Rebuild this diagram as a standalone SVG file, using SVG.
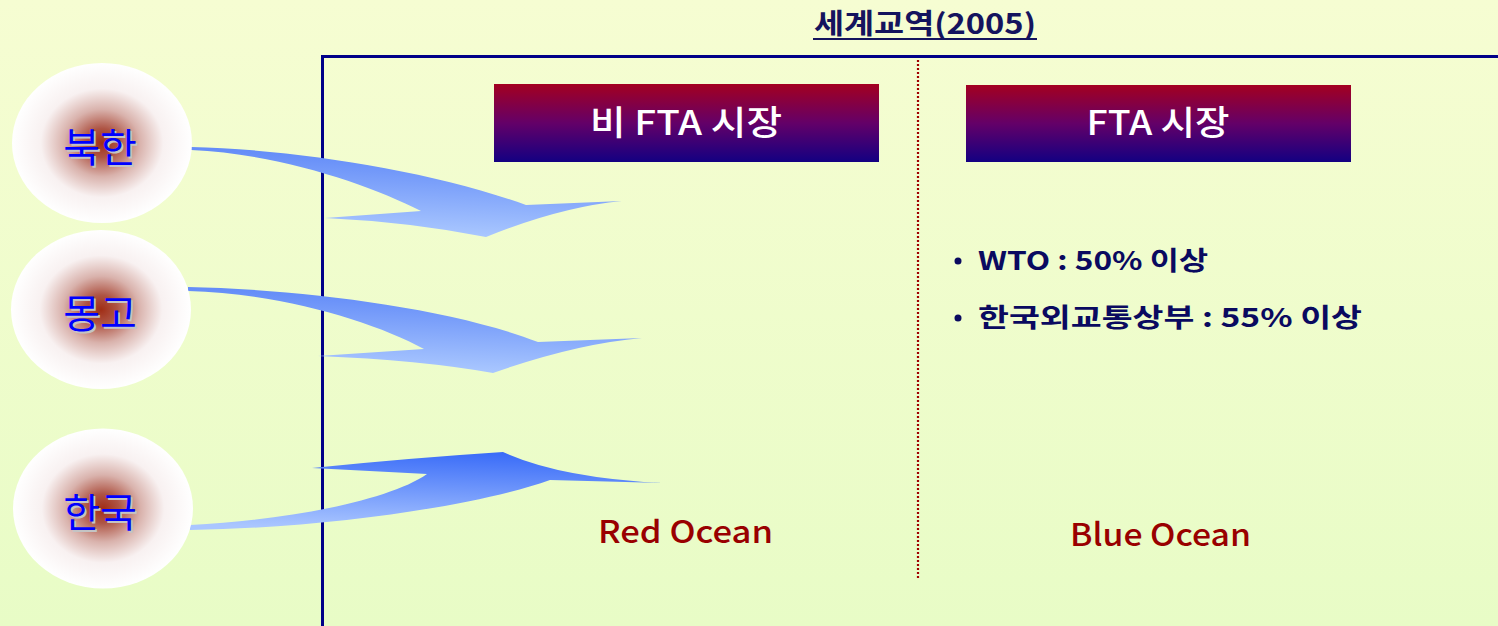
<svg xmlns="http://www.w3.org/2000/svg" width="1498" height="626" viewBox="0 0 1498 626">
<defs>
<linearGradient id="bg" x1="0" y1="0" x2="0" y2="1">
<stop offset="0" stop-color="#F6FDD2"/>
<stop offset="1" stop-color="#E8FCC6"/>
</linearGradient>
<radialGradient id="ball" cx="0.5" cy="0.5" r="0.5">
<stop offset="0" stop-color="#A12E16"/>
<stop offset="0.18" stop-color="#AE5444"/>
<stop offset="0.42" stop-color="#D9B2AC"/>
<stop offset="0.68" stop-color="#F8F1F1"/>
<stop offset="1" stop-color="#FFFFFF"/>
</radialGradient>
<linearGradient id="box" x1="0" y1="0" x2="0" y2="1">
<stop offset="0" stop-color="#A30020"/>
<stop offset="0.5" stop-color="#640068"/>
<stop offset="1" stop-color="#130082"/>
</linearGradient>
<linearGradient id="arr" x1="0.6" y1="0" x2="0.4" y2="1">
<stop offset="0" stop-color="#5A84F7"/>
<stop offset="1" stop-color="#AECBFF"/>
</linearGradient>
<linearGradient id="arr3" x1="0.6" y1="0" x2="0.4" y2="1">
<stop offset="0" stop-color="#3A6CF8"/>
<stop offset="1" stop-color="#AAC6FF"/>
</linearGradient>
<style>
.lbl{font-family:"Noto Sans CJK KR","Noto Sans",sans-serif;font-size:40px;text-anchor:middle}
.lblf{fill:#0000FF}
.lbls{fill:#C4C4C4}
.hdr{font-family:"Noto Sans CJK KR","Noto Sans",sans-serif;font-size:34px;fill:#FFFFFF;text-anchor:middle;font-weight:500}
.bul{font-family:"Noto Sans CJK KR","Noto Sans",sans-serif;font-size:26px;fill:#0A0A60;font-weight:bold}
.ocean{font-family:"Noto Sans CJK KR","Noto Sans",sans-serif;font-size:31px;fill:#990000;font-weight:500}
.ttl{font-family:"Noto Sans CJK KR","Noto Sans",sans-serif;font-size:28px;fill:#14145E;font-weight:bold}
</style>
</defs>
<rect width="1498" height="626" fill="url(#bg)"/>

<g id="frame">
<line x1="322" y1="56.5" x2="1498" y2="56.5" stroke="#000088" stroke-width="3"/>
<line x1="322.5" y1="55" x2="322.5" y2="626" stroke="#000088" stroke-width="3"/>
<line x1="918" y1="60" x2="918" y2="580" stroke="#A00000" stroke-width="2.2" stroke-dasharray="2 2"/>
</g>

<g id="title">
<text class="ttl" x="925" y="34" text-anchor="middle" textLength="222" lengthAdjust="spacingAndGlyphs">세계교역(2005)</text>
<line x1="813" y1="39" x2="1037" y2="39" stroke="#14145E" stroke-width="2"/>
</g>

<g id="connectors">
<path d="M191,147 C290,149 430,170 526,205 L622,201 Q560,207 486,237 Q410,222 325,218 L421,211 C370,185 280,154 191,150 Z" fill="url(#arr)"/>
<path d="M188,287 C292,289 445,306 538,342 L642,338 Q575,344 493,373 Q420,360 318,356 L424,349 C375,322 280,293 188,291 Z" fill="url(#arr)"/>
<path d="M190,525 C290,520 390,500 427,474 L312,468 Q410,458 503,452 Q560,478 663,483 L550,480 C480,505 330,528 190,530 Z" fill="url(#arr3)"/>
</g>

<g id="node-bukhan">
<ellipse cx="102" cy="143" rx="90" ry="80" fill="url(#ball)"/>
<text class="lbl lbls" x="102" y="164">북한</text>
<text class="lbl lblf" x="100" y="162">북한</text>
</g>
<g id="node-monggo">
<ellipse cx="101" cy="309.5" rx="90" ry="79.5" fill="url(#ball)"/>
<text class="lbl lbls" x="102" y="330">몽고</text>
<text class="lbl lblf" x="100" y="328">몽고</text>
</g>
<g id="node-hanguk">
<ellipse cx="103" cy="508.5" rx="90" ry="80" fill="url(#ball)"/>
<text class="lbl lbls" x="102" y="529">한국</text>
<text class="lbl lblf" x="100" y="527">한국</text>
</g>

<g id="box-nonfta">
<rect x="494" y="84" width="385" height="78" fill="url(#box)"/>
<text class="hdr" x="686" y="135" textLength="192" lengthAdjust="spacingAndGlyphs">비 FTA 시장</text>
</g>
<g id="box-fta">
<rect x="966" y="85" width="385" height="77" fill="url(#box)"/>
<text class="hdr" x="1158" y="135" textLength="143" lengthAdjust="spacingAndGlyphs">FTA 시장</text>
</g>

<g id="bullets">
<circle cx="958" cy="261" r="3.5" fill="#0A0A60"/>
<text class="bul" x="978" y="270" textLength="230" lengthAdjust="spacingAndGlyphs">WTO : 50% 이상</text>
<circle cx="958" cy="318" r="3.5" fill="#0A0A60"/>
<text class="bul" x="978" y="327" textLength="384" lengthAdjust="spacingAndGlyphs">한국외교통상부 : 55% 이상</text>
</g>

<g id="oceans">
<text class="ocean" x="598" y="543" textLength="175" lengthAdjust="spacingAndGlyphs">Red Ocean</text>
<text class="ocean" x="1070" y="546" textLength="181" lengthAdjust="spacingAndGlyphs">Blue Ocean</text>
</g>
</svg>
